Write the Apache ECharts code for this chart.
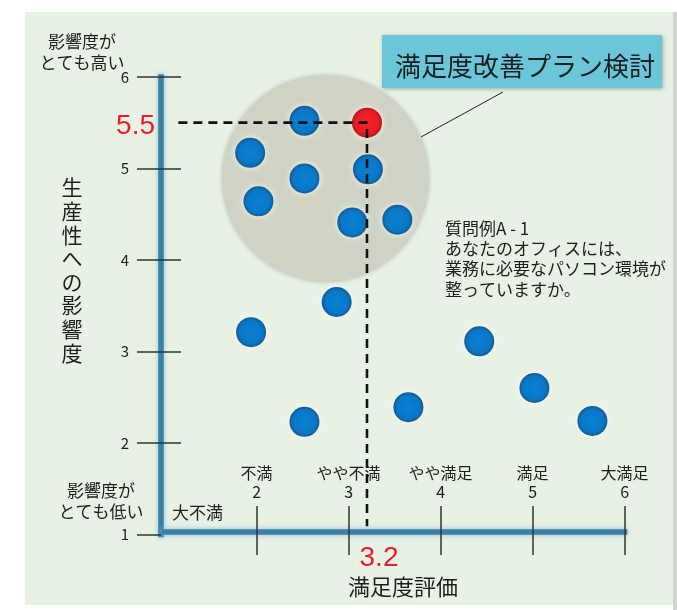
<!DOCTYPE html>
<html><head><meta charset="utf-8">
<script src="https://cdn.jsdelivr.net/npm/echarts@6/dist/echarts.min.js"></script>
<style>html,body{margin:0;padding:0;background:#fff}#c{width:677px;height:610px}</style>
</head><body><div id="c"></div>
<script>
// ---- data ----
const satisfactionTicks = [1, 2, 3, 4, 5, 6];
const satisfactionNames = ['大不満', '不満', 'やや不満', 'やや満足', '満足', '大満足'];
const impactTicks = [1, 2, 3, 4, 5, 6];
const bluePoints = [
  [2.52, 5.52], [1.93, 5.17], [2.52, 4.89], [3.21, 4.99], [2.02, 4.64],
  [3.04, 4.41], [3.53, 4.44], [2.87, 3.54], [1.94, 3.21], [2.52, 2.23],
  [3.65, 2.39], [4.42, 3.11], [5.02, 2.60], [5.65, 2.24]
];
const redPoint = [3.2, 5.5];
const focusCircle = [2.75, 4.89];
const guideStartX = 1.15;
const guideEndY = 1.09;
const xTitle = '満足度評価';
const yTitle = '生産性への影響度';
const topLabel = ['影響度が', 'とても高い'];
const bottomLabel = ['影響度が', 'とても低い'];
const calloutText = '満足度改善プラン検討';
const questionLines = ['質問例A - 1', 'あなたのオフィスには、', '業務に必要なパソコン環境が', '整っていますか。'];

const JP = "'Noto Sans CJK JP', 'Noto Sans', sans-serif";
const chart = echarts.init(document.getElementById('c'), null, {renderer: 'canvas'});

const axisLineStyle = {
  color: '#3d7ea3', width: 5.5, cap: 'square',
  shadowColor: 'rgba(125,195,228,1)', shadowBlur: 5
};
const tickStyle = {color: '#333', width: 1.5};

const guideData = [[guideStartX, redPoint[1]], [redPoint[0], redPoint[1]], [redPoint[0], guideEndY]];

const blueColor = {type: 'radial', x: 0.5, y: 0.5, r: 0.5, colorStops: [
  {offset: 0, color: '#0a80d2'}, {offset: 0.75, color: '#0a78c8'}, {offset: 1, color: '#125b95'}]};
const redColor = {type: 'radial', x: 0.5, y: 0.5, r: 0.5, colorStops: [
  {offset: 0, color: '#f4232b'}, {offset: 0.75, color: '#ec1c25'}, {offset: 1, color: '#b5151c'}]};

const option = {
  backgroundColor: '#ffffff',
  animation: false,
  grid: {left: 164.6, right: 52.4, top: 76.9, bottom: 75.6},
  xAxis: [
    {
      type: 'value', min: 1, max: 6, interval: 1, position: 'bottom', offset: -2.5,
      axisLine: {show: true, lineStyle: axisLineStyle},
      axisTick: {show: true, inside: true, length: 26, lineStyle: tickStyle, customValues: satisfactionTicks.slice(1)},
      axisLabel: {
        show: true, inside: true, margin: 30, customValues: satisfactionTicks.slice(1),
        formatter: v => satisfactionNames[satisfactionTicks.indexOf(v)] + '\n' + v,
        fontFamily: JP, fontSize: 16, lineHeight: 19, color: '#1e1e1e'
      },
      splitLine: {show: false}
    },
    {
      type: 'value', min: 1, max: 6, interval: 1, position: 'bottom', offset: -2.5,
      axisLine: {show: false},
      axisTick: {show: true, inside: false, length: 23, lineStyle: tickStyle, customValues: satisfactionTicks.slice(1)},
      axisLabel: {show: false},
      splitLine: {show: false}
    }
  ],
  yAxis: [
    {
      type: 'value', min: 1, max: 6, interval: 1, position: 'left', offset: 3.6,
      axisLine: {show: true, lineStyle: axisLineStyle},
      axisTick: {show: true, inside: false, length: 24, lineStyle: tickStyle, customValues: impactTicks},
      axisLabel: {show: true, margin: 32, customValues: impactTicks, fontFamily: JP, fontSize: 15, color: '#1e1e1e'},
      splitLine: {show: false}
    },
    {
      type: 'value', min: 1, max: 6, interval: 1, position: 'left', offset: 3.6,
      axisLine: {show: false},
      axisTick: {show: true, inside: true, length: 20, lineStyle: tickStyle, customValues: impactTicks.slice(1)},
      axisLabel: {show: false},
      splitLine: {show: false}
    }
  ],
  series: [
    {
      type: 'scatter', z: 1, silent: true, symbolSize: 206,
      data: [focusCircle],
      itemStyle: {color: '#ced3c6', shadowColor: 'rgba(0,0,0,0.25)', shadowBlur: 5, opacity: 1}
    },
    {
      type: 'scatter', z: 3, symbolSize: 30,
      data: bluePoints,
      itemStyle: {color: blueColor, shadowColor: 'rgba(255,250,235,0.95)', shadowBlur: 6, opacity: 1}
    },
    {
      type: 'scatter', z: 4, symbolSize: 30,
      data: [redPoint],
      itemStyle: {color: redColor, shadowColor: 'rgba(255,250,235,0.95)', shadowBlur: 6, opacity: 1}
    },
    {
      type: 'line', z: 5, silent: true, symbol: 'none',
      data: guideData,
      lineStyle: {color: '#111', width: 2.6, type: [9, 6]}
    }
  ],
  graphic: [
    {type: 'rect', z: -10, silent: true, shape: {x: 25, y: 12, width: 648, height: 593}, style: {fill: '#e7f1e4'}},
    {type: 'rect', z: -10, silent: true, shape: {x: 673, y: 12, width: 4, height: 598}, style: {fill: '#d2d6d2'}},
    {type: 'text', z: 10, x: 82, y: 52, style: {text: topLabel.join('\n'), fontFamily: JP, fontSize: 17, lineHeight: 21, fill: '#1e1e1e', textAlign: 'center', textVerticalAlign: 'middle'}},
    {type: 'text', z: 10, x: 101, y: 501, style: {text: bottomLabel.join('\n'), fontFamily: JP, fontSize: 17, lineHeight: 21, fill: '#1e1e1e', textAlign: 'center', textVerticalAlign: 'middle'}},
    {type: 'text', z: 10, x: 72, y: 270, style: {text: yTitle.split('').join('\n'), fontFamily: JP, fontSize: 21, lineHeight: 23.6, fill: '#1e1e1e', textAlign: 'center', textVerticalAlign: 'middle'}},
    {type: 'text', z: 10, x: 403, y: 587, style: {text: xTitle, fontFamily: JP, fontSize: 22, fill: '#1e1e1e', textAlign: 'center', textVerticalAlign: 'middle'}},
    {type: 'text', z: 10, x: 172, y: 513, style: {text: satisfactionNames[0], fontFamily: JP, fontSize: 17, fill: '#1e1e1e', textAlign: 'left', textVerticalAlign: 'middle'}},
    {type: 'rect', z: 10, shape: {x: 382, y: 35, width: 280, height: 53}, style: {fill: '#6cc6d9', shadowColor: 'rgba(0,0,0,0.3)', shadowBlur: 4, shadowOffsetX: 1, shadowOffsetY: 1}},
    {type: 'text', z: 11, x: 525, y: 66, style: {text: calloutText, fontFamily: JP, fontSize: 26, fill: '#1e1e1e', textAlign: 'center', textVerticalAlign: 'middle'}},
    {type: 'line', z: 10, shape: {x1: 421, y1: 137, x2: 503, y2: 92}, style: {stroke: '#222', lineWidth: 1}},
    {type: 'text', z: 10, x: 445, y: 218, style: {text: questionLines.join('\n'), fontFamily: JP, fontSize: 17, lineHeight: 20.4, fill: '#1e1e1e', textAlign: 'left', textVerticalAlign: 'top'}},
    {type: 'text', z: 10, x: 155, y: 126, style: {text: String(redPoint[1]), fontFamily: "'Liberation Sans', sans-serif", fontSize: 28, fill: '#e8202a', textAlign: 'right', textVerticalAlign: 'middle'}},
    {type: 'text', z: 10, x: 379, y: 558, style: {text: String(redPoint[0]), fontFamily: "'Liberation Sans', sans-serif", fontSize: 28, fill: '#e8202a', textAlign: 'center', textVerticalAlign: 'middle'}}
  ]
};
chart.setOption(option);
</script></body></html>
